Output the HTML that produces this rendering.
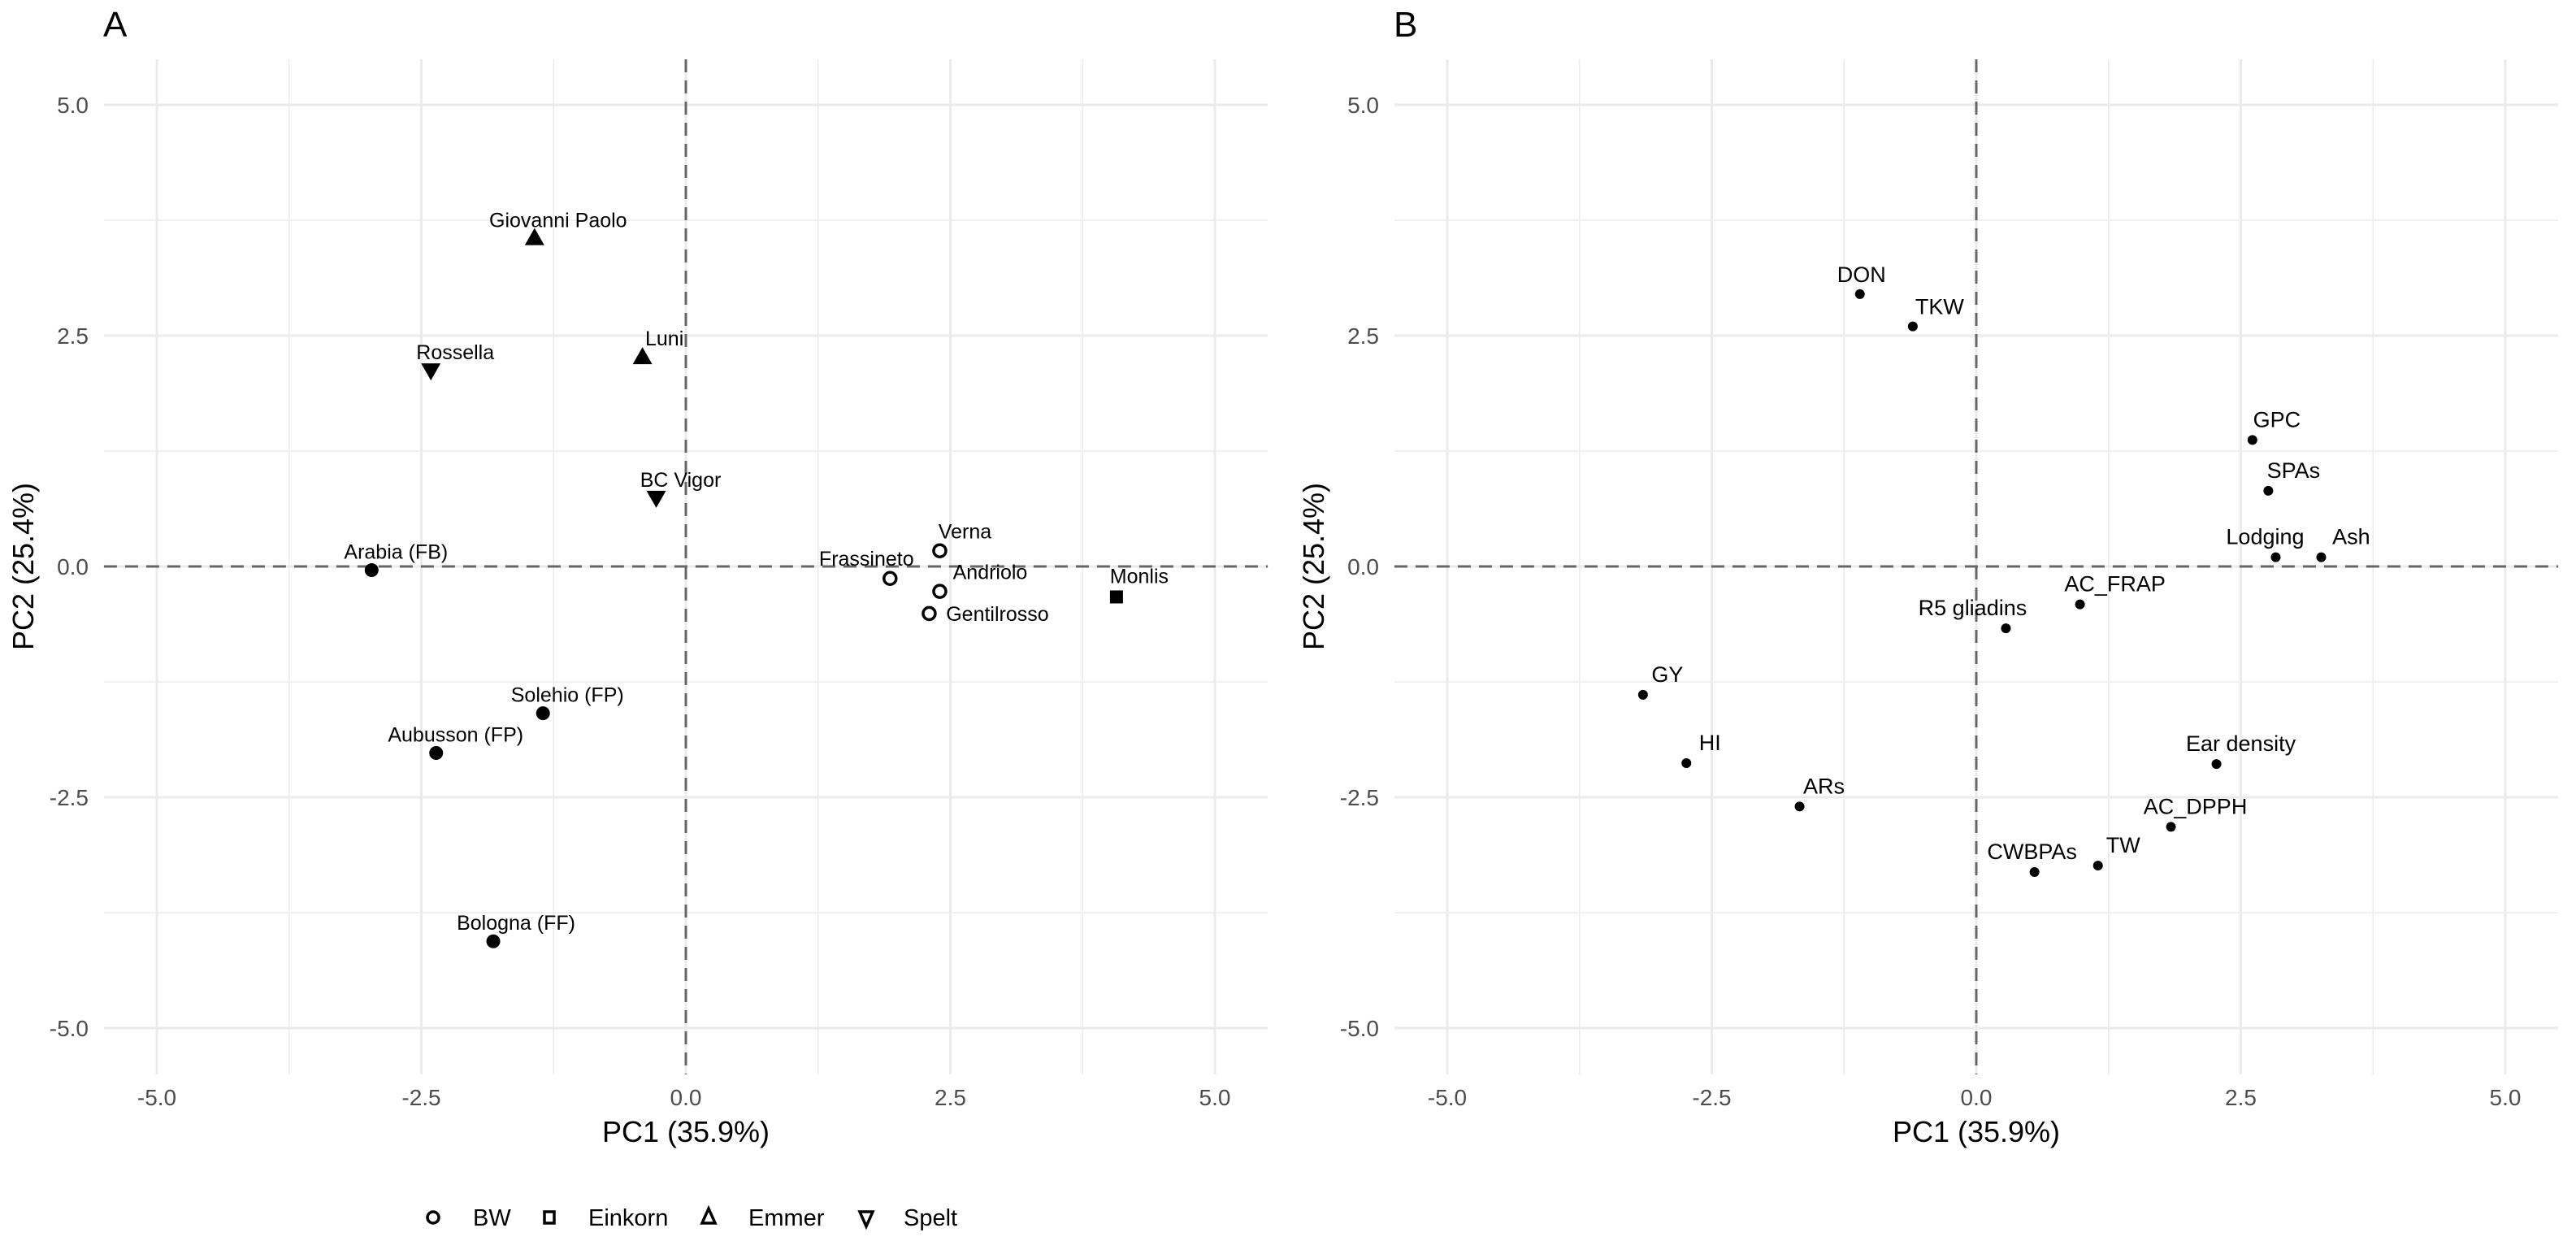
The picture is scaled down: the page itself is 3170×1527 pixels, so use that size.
<!DOCTYPE html>
<html><head><meta charset="utf-8"><style>
html,body{margin:0;padding:0;background:#fff}
svg{display:block;font-family:"Liberation Sans",Arial,sans-serif}
</style></head><body>
<svg id="fig" width="3170" height="1527" viewBox="0 0 3170 1527" xmlns="http://www.w3.org/2000/svg">
<rect width="3170" height="1527" fill="#fff"/>
<g id="panelA"></g>
<g id="panelB"></g>
<g id="legend"></g>
</svg>
<script>
// Panel A data
const aNames = ["Giovanni Paolo","Luni","Rossella","BC Vigor","Arabia (FB)","Frassineto","Verna","Andriolo","Gentilrosso","Monlis","Solehio (FP)","Aubusson (FP)","Bologna (FF)"];
const aPC1 = [-1.43,-0.41,-2.41,-0.28,-2.97,1.93,2.40,2.40,2.30,4.07,-1.35,-2.36,-1.82];
const aPC2 = [3.56,2.27,2.12,0.74,-0.04,-0.13,0.17,-0.27,-0.51,-0.33,-1.59,-2.02,-4.06];
const aGroup = ["Emmer","Emmer","Spelt","Spelt","Filled","BW","BW","BW","BW","Einkorn","Filled","Filled","Filled"];
// Panel B data
const bNames = ["DON","TKW","GPC","SPAs","Lodging","Ash","AC_FRAP","R5 gliadins","GY","HI","ARs","Ear density","AC_DPPH","TW","CWBPAs"];
const bPC1 = [-1.10,-0.60,2.61,2.76,2.83,3.26,0.98,0.28,-3.15,-2.74,-1.67,2.27,1.84,1.15,0.55];
const bPC2 = [2.95,2.60,1.37,0.82,0.10,0.10,-0.41,-0.67,-1.39,-2.13,-2.60,-2.14,-2.82,-3.24,-3.31];
const tickVals = [-5.0,-2.5,0.0,2.5,5.0];
const tickLabels = ["-5.0","-2.5","0.0","2.5","5.0"];
const legendItems = ["BW","Einkorn","Emmer","Spelt"];
// label nudges (style, px)
const aLabDx = [29,27,30,30,30,-29,31,62,84,28,30,24,28];
const aLabDy = [-22,-23,-23,-23,-23,-25,-24,-24,0,-26,-23,-23,-23];
const bLabDx = [2,33,30,31,-13,37,43,-41,30,29,30,30,30,31,-3];
const bLabDy = [-25,-25,-26,-26,-26,-26,-26,-26,-26,-26,-26,-26,-26,-26,-26];

const NS="http://www.w3.org/2000/svg";
function mk(tag,attrs,parent){const e=document.createElementNS(NS,tag);for(const k in attrs)e.setAttribute(k,attrs[k]);parent.appendChild(e);return e;}
const ux=130.2, uy=113.6, y0=697, plotTop=73, plotBottom=1322;

function drawPanel(g, x0, letter, ytickRight){
  const sx=v=>x0+v*ux, sy=v=>y0-v*uy;
  const left=sx(-5.5), right=sx(5.5);
  for(const v of [-3.75,-1.25,1.25,3.75]){
    const l=mk('line',{x1:sx(v),x2:sx(v),y1:plotTop,y2:plotBottom,stroke:'#ebebeb','stroke-width':1.5},g);
    
    
    const m=mk('line',{x1:left,x2:right,y1:sy(v),y2:sy(v),stroke:'#ebebeb','stroke-width':1.5},g);
    
    
  }
  tickVals.forEach((v,i)=>{
    const l=mk('line',{x1:sx(v),x2:sx(v),y1:plotTop,y2:plotBottom,stroke:'#ebebeb','stroke-width':3},g);
    
    
    const m=mk('line',{x1:left,x2:right,y1:sy(v),y2:sy(v),stroke:'#ebebeb','stroke-width':3},g);
    
    
    const t=mk('text',{x:sx(v),y:1360,'text-anchor':'middle','font-size':28,fill:'#4d4d4d'},g);
    t.textContent=tickLabels[i];
    
    
    const u=mk('text',{x:ytickRight,y:sy(v)+10,'text-anchor':'end','font-size':28,fill:'#4d4d4d'},g);
    u.textContent=tickLabels[i];
    
    
  });
  const h=mk('line',{x1:left,x2:right,y1:sy(0),y2:sy(0),stroke:'#666','stroke-width':3,'stroke-dasharray':'16 10'},g);
  
  
  const vl=mk('line',{x1:sx(0),x2:sx(0),y1:plotTop,y2:plotBottom,stroke:'#666','stroke-width':3,'stroke-dasharray':'16 10'},g);
  
  
  const xt=mk('text',{x:sx(0),y:1405,'text-anchor':'middle','font-size':36,fill:'#000'},g);
  xt.textContent='PC1 (35.9%)';
  
  
  const ytx=x0-803;
  const yt=mk('text',{x:ytx,y:y0,'text-anchor':'middle','font-size':36,fill:'#000',transform:`rotate(-90 ${ytx} ${y0})`},g);
  yt.textContent='PC2 (25.4%)';
  
  
  const lt=mk('text',{x:x0-717,y:45,'font-size':44,fill:'#000'},g);
  lt.textContent=letter;
  
  
  return [sx,sy];
}

function marker(g,grp,cx,cy){
  let e;
  if(grp==='BW') e=mk('circle',{cx,cy,r:7.5,fill:'none',stroke:'#000','stroke-width':3.5},g);
  else if(grp==='Einkorn') e=mk('rect',{x:cx-8,y:cy-8,width:16,height:16,fill:'#000'},g);
  else if(grp==='Emmer') e=mk('polygon',{points:`${cx},${cy-12} ${cx-12},${cy+9} ${cx+12},${cy+9}`,fill:'#000'},g);
  else if(grp==='Spelt') e=mk('polygon',{points:`${cx},${cy+12} ${cx-12},${cy-9} ${cx+12},${cy-9}`,fill:'#000'},g);
  else e=mk('circle',{cx,cy,r:8.5,fill:'#000'},g);
  return e;
}

const gA=document.getElementById('panelA');
const [ax,ay]=drawPanel(gA,844,'A',109);
aNames.forEach((n,i)=>{
  const px=ax(aPC1[i]), py=ay(aPC2[i]);
  const m=marker(gA,aGroup[i],px,py);
  
  
  const t=mk('text',{x:px+aLabDx[i],y:py+aLabDy[i]+9,'text-anchor':'middle','font-size':25,fill:'#000'},gA);
  t.textContent=n;
  
  
});

const gB=document.getElementById('panelB');
const [bx,by]=drawPanel(gB,2432,'B',1697);
bNames.forEach((n,i)=>{
  const px=bx(bPC1[i]), py=by(bPC2[i]);
  const m=mk('circle',{cx:px,cy:py,r:6,fill:'#000'},gB);
  
  
  const t=mk('text',{x:px+bLabDx[i],y:py+bLabDy[i]+10,'text-anchor':'middle','font-size':27,fill:'#000'},gB);
  t.textContent=n;
  
  
});

const gL=document.getElementById('legend');
const legSym=[533,676,872,1066], legTxt=[582,724,921,1112];
legendItems.forEach((n,i)=>{
  let e;
  const cx=legSym[i], cy=1498;
  if(n==='BW') e=mk('circle',{cx,cy,r:7,fill:'none',stroke:'#000','stroke-width':3.5},gL);
  else if(n==='Einkorn') e=mk('rect',{x:cx-6,y:cy-7,width:12,height:14,fill:'none',stroke:'#000','stroke-width':3.5},gL);
  else if(n==='Emmer') e=mk('polygon',{points:`${cx},${cy-11} ${cx-8},${cy+7} ${cx+8},${cy+7}`,fill:'none',stroke:'#000','stroke-width':3.5},gL);
  else e=mk('polygon',{points:`${cx},${cy+11} ${cx-8},${cy-7} ${cx+8},${cy-7}`,fill:'none',stroke:'#000','stroke-width':3.5},gL);
  
  
  const t=mk('text',{x:legTxt[i],y:cy+10,'font-size':29,fill:'#000'},gL);
  t.textContent=n;
  
  
});
</script>
</body></html>
